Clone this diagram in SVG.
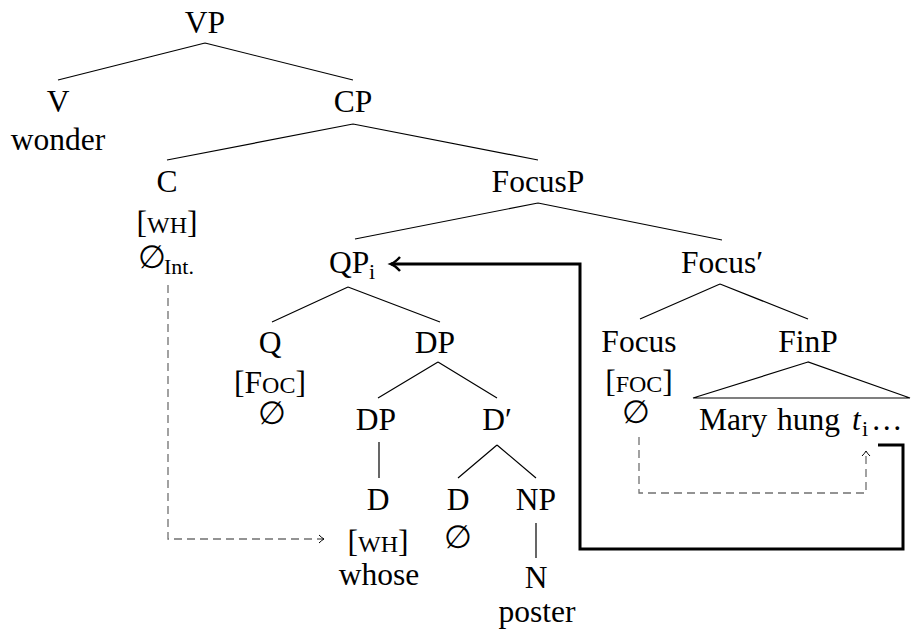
<svg xmlns="http://www.w3.org/2000/svg" width="911" height="632" viewBox="0 0 911 632">
<style>
.e{stroke:#000;stroke-width:1.2;fill:none}
.d{stroke:#707070;stroke-width:1.3;fill:none;stroke-dasharray:8 5}
.mv{stroke:#000;stroke-width:3;fill:none}
</style>
<defs>
<marker id="thin" markerUnits="userSpaceOnUse" markerWidth="14" markerHeight="14" refX="0" refY="0" viewBox="-8 -7 10 14" orient="auto" overflow="visible">
<path d="M-5,-4 Q-2,-1 0,0 Q-2,1 -5,4" stroke="#000" stroke-width="1" fill="none"/>
</marker>
<marker id="thick" markerUnits="userSpaceOnUse" markerWidth="20" markerHeight="20" refX="0" refY="0" viewBox="-12 -10 14 20" orient="auto" overflow="visible">
<path d="M-9,-7 Q-4,-1.5 0,0 Q-4,1.5 -9,7" stroke="#000" stroke-width="2.5" fill="none"/>
</marker>
</defs>
<g id="edges">
<path class="e" d="M205,43 L58,80 M205,43 L353,80"/>
<path class="e" d="M353,124 L167,160 M353,124 L538,160"/>
<path class="e" d="M538,203 L355,239 M538,203 L722,240"/>
<path class="e" d="M348,287 L272,322 M348,287 L440,322"/>
<path class="e" d="M720,284 L640,319 M720,284 L808,319"/>
<path class="e" d="M438,362 L378,398 M438,362 L497,398"/>
<path class="e" d="M379,442 L379,478"/>
<path class="e" d="M497,445 L458,478 M497,445 L536,478"/>
<path class="e" d="M536,523 L536,558"/>
<path class="e" d="M808,362 L693,398 L910,398 Z"/>
</g>
<g id="movement">
<path class="d" d="M168,285 L168,539 L324,539" marker-end="url(#thin)"/>
<path class="d" d="M639,437 L639,493 L866,493 L866,451" marker-end="url(#thin)"/>
<path class="mv" d="M878,445 L903,445 L903,549 L580,549 L580,264 L391,264" marker-end="url(#thick)"/>
</g>
<g font-family="Liberation Serif, serif" font-size="31.5" fill="#000" text-anchor="middle">
<g id="n-VP"><text x="205" y="33">VP</text></g>
<g id="n-V"><text x="58" y="112">V</text><text x="58" y="150">wonder</text></g>
<g id="n-CP"><text x="353" y="112">CP</text></g>
<g id="n-C"><text x="167" y="192">C</text><text x="167" y="233">[<tspan font-size="24">WH</tspan>]</text><text x="152" y="268">∅</text><text font-size="22" text-anchor="start" x="164" y="274">Int.</text></g>
<g id="n-FocusP"><text x="538" y="192">FocusP</text></g>
<g id="n-QP"><text text-anchor="start" x="329" y="273">QP</text><text font-size="22" text-anchor="start" x="369" y="279">i</text></g>
<g id="n-Focus1"><text x="722" y="273">Focus′</text></g>
<g id="n-Q"><text x="270" y="353">Q</text><text x="270" y="393">[F<tspan font-size="24">OC</tspan>]</text><text x="272" y="424">∅</text></g>
<g id="n-DP1"><text x="435" y="353">DP</text></g>
<g id="n-Focus"><text x="639" y="352">Focus</text><text x="639" y="392">[<tspan font-size="24">FOC</tspan>]</text><text x="636" y="423">∅</text></g>
<g id="n-FinP"><text x="808" y="352">FinP</text><text text-anchor="start" x="699" y="430" word-spacing="2">Mary hung</text><text text-anchor="start" x="852" y="430" font-style="italic">t</text><text font-size="22" text-anchor="start" x="862" y="436">i</text><text text-anchor="start" x="871" y="430" letter-spacing="1">…</text></g>
<g id="n-DP2"><text x="376" y="430">DP</text></g>
<g id="n-D1"><text x="497" y="430">D′</text></g>
<g id="n-D2"><text x="378" y="510">D</text><text x="378" y="552">[<tspan font-size="24">WH</tspan>]</text><text x="379" y="585">whose</text></g>
<g id="n-D3"><text x="458" y="510">D</text><text x="458" y="548">∅</text></g>
<g id="n-NP"><text x="536" y="510">NP</text></g>
<g id="n-N"><text x="536" y="588">N</text><text x="537" y="622">poster</text></g>
</g>
</svg>
